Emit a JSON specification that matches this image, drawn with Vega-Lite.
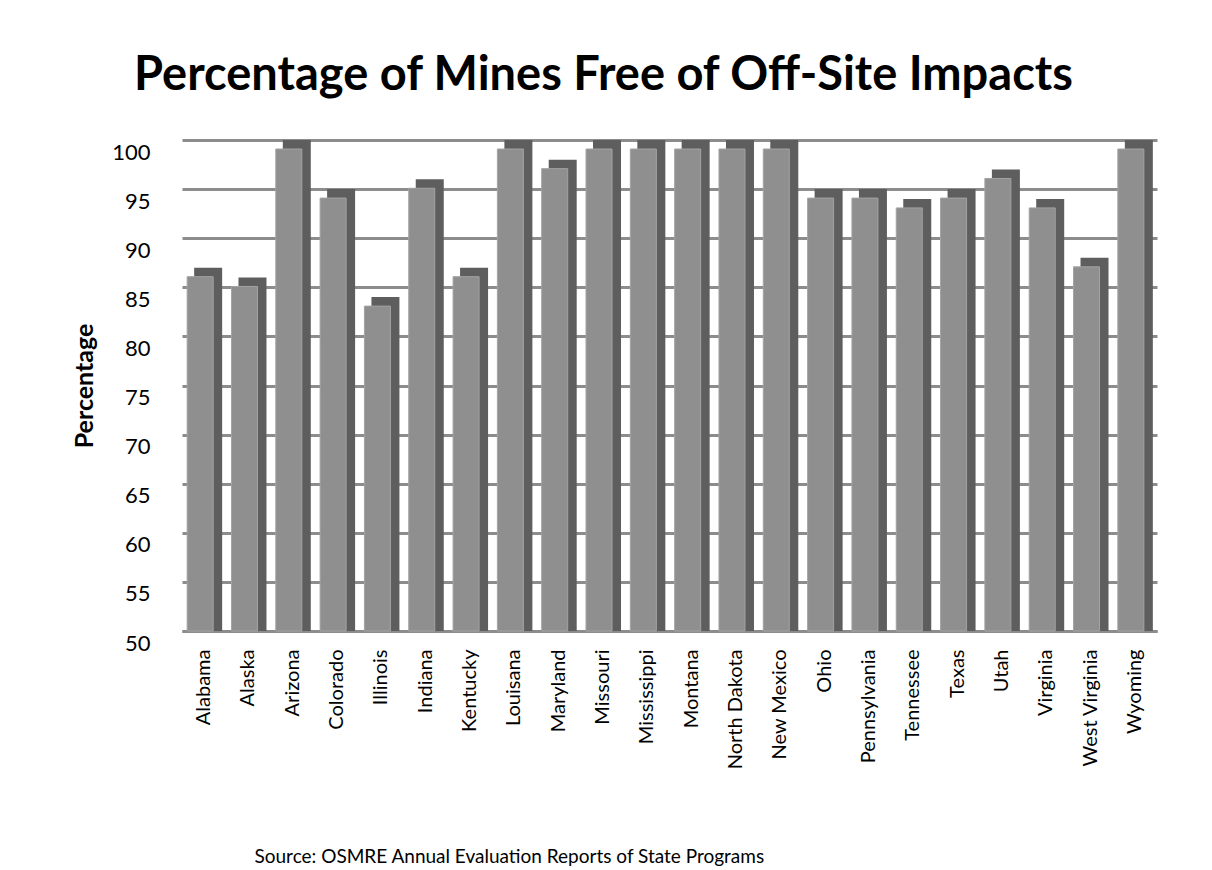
{
  "$schema": "https://vega.github.io/schema/vega-lite/v6.json",
  "width": 975,
  "height": 491,
  "padding": {"left": 72, "top": 52, "right": 40, "bottom": 0},
  "background": "white",
  "title": {"text": "Percentage of Mines Free of Off-Site Impacts", "font": "Lato", "fontSize": 47, "fontWeight": "bold", "color": "black", "offset": 40, "anchor": "middle", "dx": -66},
  "config": {"view": {"stroke": null}, "font": "Lato"},
  "data": {"values": [
    {"state": "Alabama", "pct": 87},
    {"state": "Alaska", "pct": 86},
    {"state": "Arizona", "pct": 100},
    {"state": "Colorado", "pct": 95},
    {"state": "Illinois", "pct": 84},
    {"state": "Indiana", "pct": 96},
    {"state": "Kentucky", "pct": 87},
    {"state": "Louisana", "pct": 100},
    {"state": "Maryland", "pct": 98},
    {"state": "Missouri", "pct": 100},
    {"state": "Mississippi", "pct": 100},
    {"state": "Montana", "pct": 100},
    {"state": "North Dakota", "pct": 100},
    {"state": "New Mexico", "pct": 100},
    {"state": "Ohio", "pct": 95},
    {"state": "Pennsylvania", "pct": 95},
    {"state": "Tennessee", "pct": 94},
    {"state": "Texas", "pct": 95},
    {"state": "Utah", "pct": 97},
    {"state": "Virginia", "pct": 94},
    {"state": "West Virginia", "pct": 88},
    {"state": "Wyoming", "pct": 100}
  ]},
  "encoding": {
    "x": {"field": "state", "type": "nominal", "sort": null,
      "scale": {"paddingInner": 0.2, "paddingOuter": 0.1},
      "axis": {"labelAngle": -90, "labelFontSize": 20, "labelColor": "black", "labelFont": "Lato",
        "ticks": false, "domain": true, "domainColor": "#8c8c8c", "domainWidth": 3, "labelPadding": 18,
        "title": "Source: OSMRE Annual Evaluation Reports of State Programs", "titleFontSize": 19, "titleFontWeight": "normal", "titleFont": "Lato",
        "titleAnchor": "start", "titleAlign": "left", "titleX": 72, "titleY": 216, "titleColor": "black"}},
    "y": {"field": "pct", "type": "quantitative",
      "scale": {"domain": [50, 100], "nice": false, "zero": false},
      "axis": {"values": [50,55,60,65,70,75,80,85,90,95,100], "labelFontSize": 22, "labelColor": "black", "labelFont": "Lato",
        "ticks": false, "domain": false, "grid": true, "gridColor": "#8c8c8c", "gridWidth": 3,
        "labelOffset": 12, "labelPadding": 32,
        "title": "Percentage", "titleFontSize": 25, "titleFontWeight": "bold", "titleColor": "black", "titleFont": "Lato", "titlePadding": 14}}
  },
  "layer": [
    {"mark": {"type": "bar", "width": 28, "xOffset": 4, "color": "#5e5e5e", "clip": false}, "encoding": {"y2": {"datum": 50}}},
    {"mark": {"type": "bar", "width": 26, "xOffset": -4, "yOffset": 9, "color": "#8f8f8f", "stroke": "#a3a3a3", "strokeWidth": 1, "clip": false}, "encoding": {"y2": {"datum": 50}}}
  ]
}
